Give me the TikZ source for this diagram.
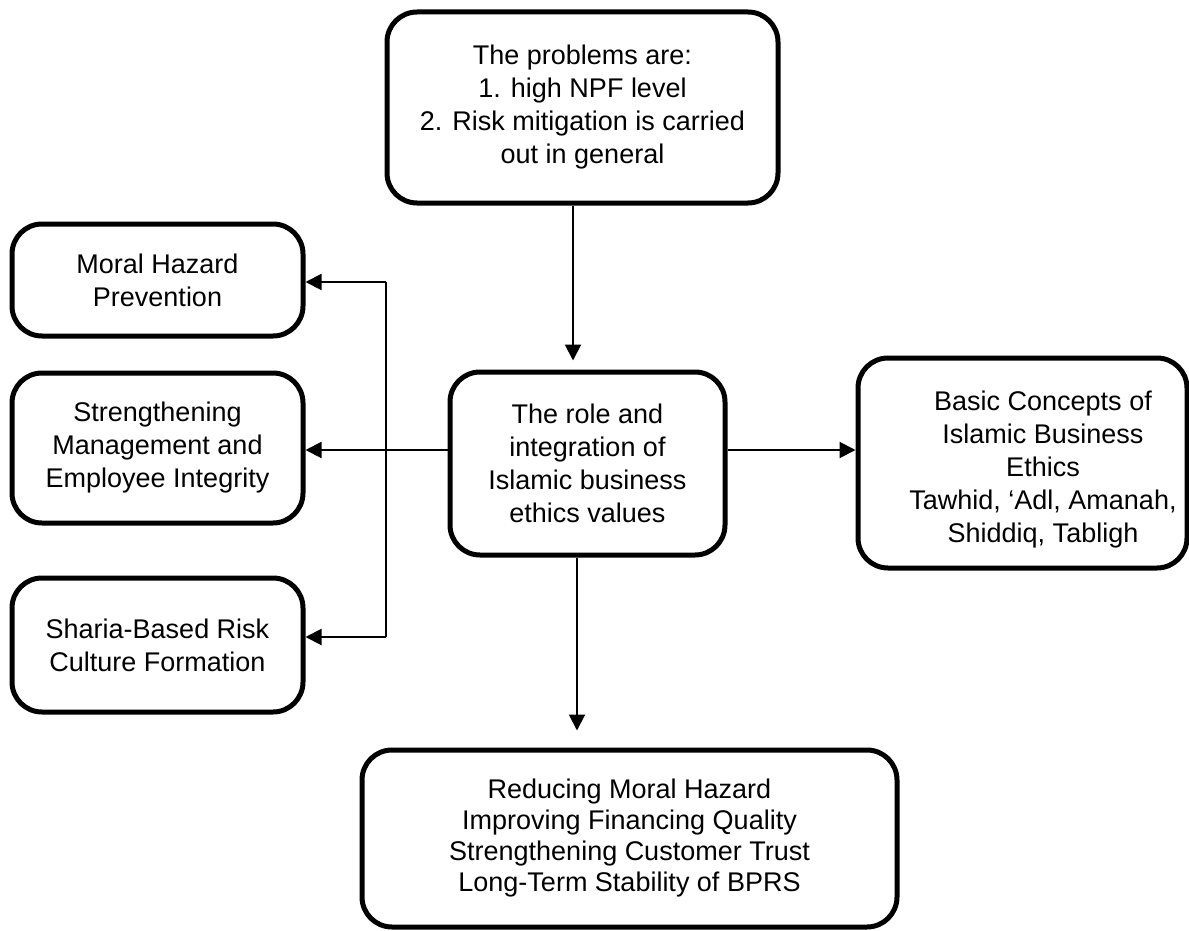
\documentclass[tikz,border=0pt]{standalone}
\usepackage{fontspec}
\setmainfont{Liberation Sans}
\usetikzlibrary{arrows.meta}
\begin{document}
\begin{tikzpicture}[x=0.5pt,y=-0.5pt,
  box/.style={draw, line width=2.5pt, rounded corners=15pt, align=center, inner sep=0pt, font=\fontsize{13.5}{16.5}\selectfont},
  txt/.style={align=center, inner sep=0pt, font=\fontsize{13.5}{16.5}\selectfont},
  conn/.style={line width=1pt, -{Triangle[length=8pt,width=8pt]}},
  plainline/.style={line width=1pt}]
\useasboundingbox (0,0) rectangle (1189,931);
\node[box, minimum width=195.5pt, minimum height=95.5pt] (top) at (582.5,107.5) {The problems are:\\1. high NPF level\\2. Risk mitigation is carried\\out in general};
\node[box, minimum width=145.5pt, minimum height=56pt] (moral) at (157.5,280) {Moral Hazard\\Prevention};
\node[box, minimum width=145.5pt, minimum height=75pt] (strength) at (157.5,448) {Strengthening\\Management and\\Employee Integrity};
\node[box, minimum width=145.5pt, minimum height=67pt] (sharia) at (157.5,645) {Sharia-Based Risk\\Culture Formation};
\node[box, minimum width=137.5pt, minimum height=91.5pt] (center) at (587.5,463.5) {The role and\\integration of\\Islamic business\\ethics values};
\node[box, minimum width=164.5pt, minimum height=105pt] (basic) at (1022.5,463) {};
\node[txt] (basictext) at (1043,470) {Basic Concepts of\\Islamic Business\\Ethics\\Tawhid, ‘Adl, Amanah,\\Shiddiq, Tabligh};
\node[box, minimum width=267.5pt, minimum height=88.5pt, font=\fontsize{13.5}{15.5}\selectfont] (bottom) at (629.5,838.5) {Reducing Moral Hazard\\Improving Financing Quality\\Strengthening Customer Trust\\Long-Term Stability of BPRS};
\coordinate (jn) at (386,450);
\coordinate (jt) at (386,282);
\coordinate (jb) at (386,637);
\coordinate (tx) at (573,0);
\coordinate (bx) at (577,0);
\draw[conn, shorten >=4.5pt] (top.south -| tx) -- (center.north -| tx);
\draw[conn] (center.west |- jn) -- (strength.east |- jn);
\draw[plainline] (jt) -- (jb);
\draw[conn] (jt) -- (moral.east |- jt);
\draw[conn] (jb) -- (sharia.east |- jb);
\draw[conn] (center.east |- jn) -- (basic.west |- jn);
\draw[conn, shorten >=8.5pt] (center.south -| bx) -- (bottom.north -| bx);
\end{tikzpicture}
\end{document}
